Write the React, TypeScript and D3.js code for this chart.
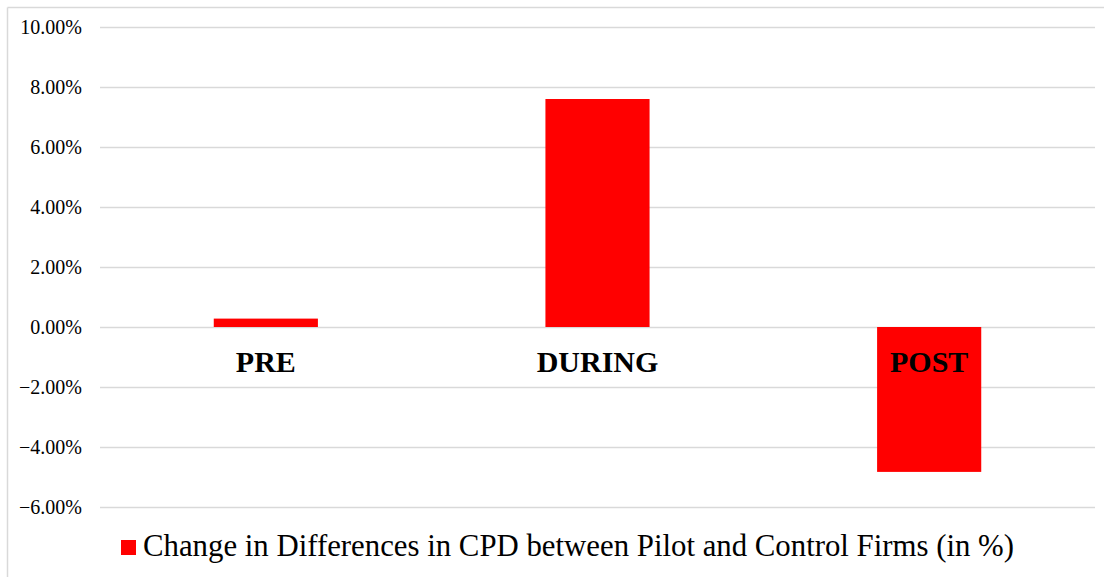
import React from "react";
import * as d3 from "d3";

const categories = ["PRE", "DURING", "POST"];
const values = [0.0028, 0.076, -0.0483];
const yTicks = [0.1, 0.08, 0.06, 0.04, 0.02, 0, -0.02, -0.04, -0.06];
const seriesName = "Change in Differences in CPD between Pilot and Control Firms (in %)";

const W = 1104;
const H = 577;
const plot = { left: 100, right: 1095, top: 27, bottom: 507 };

export default function App() {
  const y = d3.scaleLinear().domain([-0.06, 0.1]).range([plot.bottom, plot.top]);
  const x = d3.scaleBand<string>().domain(categories).range([plot.left, plot.right]).paddingInner(0).paddingOuter(0);
  const barW = x.bandwidth() * 0.314;
  const fmt = d3.format(".2%");
  const font = "\"Liberation Serif\"";
  return (
    <svg width={W} height={H} style={{ position: "absolute", left: 0, top: 0, background: "#fff" }}>
      <line x1={7.5} x2={W} y1={7.5} y2={7.5} stroke="#d9d9d9" strokeWidth={1.5} />
      <line x1={7.5} x2={7.5} y1={7.5} y2={H} stroke="#d9d9d9" strokeWidth={1.5} />
      {yTicks.map((t) => (
        <g key={t}>
          <line x1={plot.left} x2={plot.right} y1={Math.round(y(t)) + 0.5} y2={Math.round(y(t)) + 0.5} stroke="#d9d9d9" strokeWidth={1.5} />
          <text x={82} y={y(t)} dy="0.35em" textAnchor="end" style={{ fontFamily: font, fontSize: "20px" }} fill="#000">
            {fmt(t)}
          </text>
        </g>
      ))}
      {categories.map((c, i) => {
        const v = values[i];
        const cx = (x(c) as number) + x.bandwidth() / 2;
        return (
          <rect key={c} x={cx - barW / 2} width={barW} y={y(Math.max(0, v))} height={Math.abs(y(v) - y(0))} fill="#ff0000" />
        );
      })}
      {categories.map((c) => {
        const cx = (x(c) as number) + x.bandwidth() / 2;
        return (
          <text key={c} x={cx} y={372} textAnchor="middle" style={{ fontFamily: font, fontWeight: "bold", fontSize: "30px" }} fill="#000">
            {c}
          </text>
        );
      })}
      <rect x={121} y={540} width={15} height={15} fill="#ff0000" />
      <text x={143} y={556} style={{ fontFamily: font, fontSize: "30.8px" }} fill="#000">
        {seriesName}
      </text>
    </svg>
  );
}
